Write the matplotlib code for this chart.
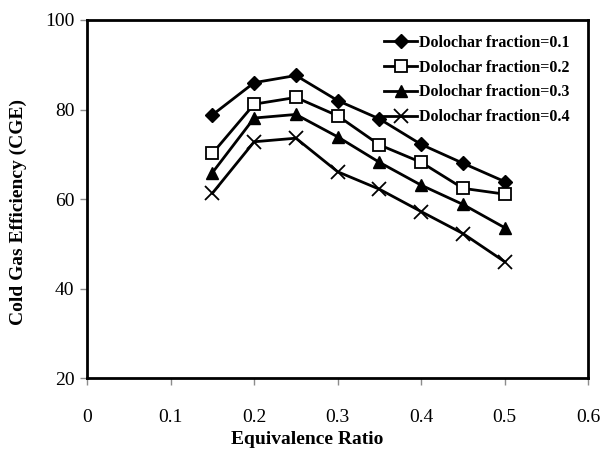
import numpy as np
import matplotlib
matplotlib.use("Agg")
import matplotlib.pyplot as plt

plt.rcParams['font.family'] = ['Liberation Serif', 'DejaVu Serif']

# equivalence ratio
er = [0.15, 0.2, 0.25, 0.3, 0.35, 0.4, 0.45, 0.5]

# cold gas efficiency for each dolochar fraction
cge_01 = [78.8, 86.0, 87.6, 82.0, 77.9, 72.2, 68.0, 63.9]
cge_02 = [70.2, 81.2, 82.7, 78.6, 72.1, 68.2, 62.4, 61.1]
cge_03 = [65.9, 78.1, 78.9, 73.9, 68.2, 63.1, 58.8, 53.6]
cge_04 = [61.3, 72.8, 73.6, 66.1, 62.2, 57.2, 52.3, 46.0]

labels = ['Dolochar fraction=0.1', 'Dolochar fraction=0.2',
          'Dolochar fraction=0.3', 'Dolochar fraction=0.4']

fig = plt.figure(figsize=(6.09, 4.54), dpi=100)
ax = fig.add_axes([0.143, 0.167, 0.823, 0.789])

ax.plot(er, cge_01, color='black', lw=2, marker='D', ms=7, label=labels[0])
ax.plot(er, cge_02, color='black', lw=2, marker='s', ms=9, mfc='white',
        mew=1.3, label=labels[1])
ax.plot(er, cge_03, color='black', lw=2, marker='^', ms=9, label=labels[2])
ax.plot(er, cge_04, color='black', lw=2, marker='x', ms=10, mew=1.3,
        label=labels[3])

ax.set_xlim(0, 0.6)
ax.set_ylim(20, 100)
ax.set_xticks([0, 0.1, 0.2, 0.3, 0.4, 0.5, 0.6])
ax.set_xticklabels(['0', '0.1', '0.2', '0.3', '0.4', '0.5', '0.6'])
ax.set_yticks([20, 40, 60, 80, 100])
ax.tick_params(labelsize=14, direction='out', length=5, width=1,
               color='0.55')
ax.tick_params(axis='x', pad=17)
ax.tick_params(axis='y', pad=4)
for s in ax.spines.values():
    s.set_linewidth(2)

ax.set_xlabel('Equivalence Ratio', fontsize=14, fontweight='bold')
ax.xaxis.set_label_coords(0.44, -0.148)
ax.set_ylabel('Cold Gas Efficiency (CGE)', fontsize=14, fontweight='bold')
ax.yaxis.set_label_coords(-0.12, 0.464)

leg = ax.legend(loc='upper right', frameon=False, handlelength=2.1,
                handletextpad=0.1, labelspacing=0.55, borderaxespad=0.3,
                bbox_to_anchor=(0.985, 0.99),
                prop={'weight': 'bold', 'size': 11.5})

plt.savefig('out.png', dpi=100)
